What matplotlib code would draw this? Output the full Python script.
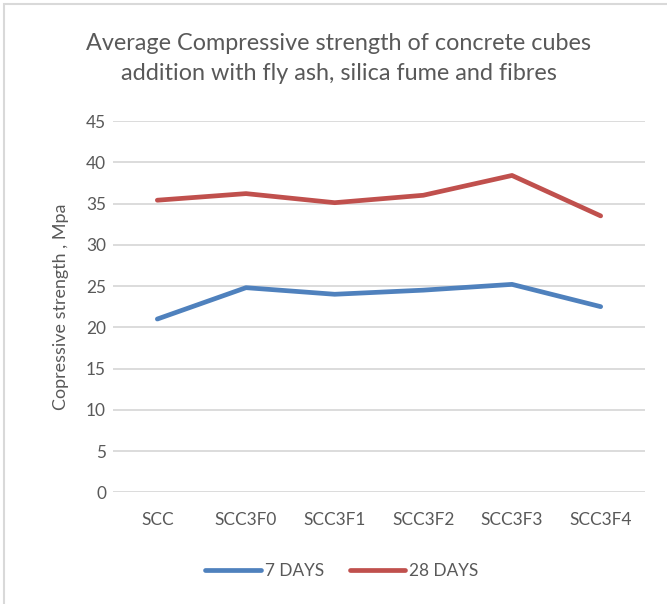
import matplotlib
matplotlib.use("Agg")
import matplotlib.pyplot as plt
from matplotlib.patches import Rectangle

# values
categories = ["SCC", "SCC3F0", "SCC3F1", "SCC3F2", "SCC3F3", "SCC3F4"]
days_7 = [21.0, 24.8, 24.0, 24.5, 25.2, 22.5]
days_28 = [35.4, 36.2, 35.1, 36.0, 38.4, 33.5]
y_ticks = [0, 5, 10, 15, 20, 25, 30, 35, 40, 45]

TEXT = "#595959"
GRID = "#d9d9d9"
BLUE = "#4f81bd"
RED = "#c0504d"

plt.rcParams["font.family"] = ["Lato", "DejaVu Sans"]

W, H = 667, 604
fig = plt.figure(figsize=(W / 100, H / 100), dpi=100)

# chart frame (only top and left edges fall inside the crop)
fig.patches.append(Rectangle((4 / W, -0.1), 1.2, (H - 4) / H + 0.1,
                             transform=fig.transFigure, fill=False,
                             edgecolor=GRID, lw=1.5))

ax = fig.add_axes([113 / W, (H - 492.3) / H, 532 / W, (492.3 - 121) / H])
x = list(range(len(categories)))
ax.plot(x, days_7, color=BLUE, lw=3.4, solid_capstyle="round",
        solid_joinstyle="round", label="7 DAYS")
ax.plot(x, days_28, color=RED, lw=3.4, solid_capstyle="round",
        solid_joinstyle="round", label="28 DAYS")

ax.set_xlim(-0.5, len(categories) - 0.5)
ax.set_ylim(0, 45)
ax.set_yticks(y_ticks)
ax.set_xticks(x)
ax.set_xticklabels(categories)
ax.yaxis.grid(True, color=GRID, lw=1.3)
ax.set_axisbelow(True)
for s in ax.spines.values():
    s.set_visible(False)
ax.tick_params(length=0, colors=TEXT, labelsize=12.4)
ax.tick_params(axis="y", pad=5)
ax.tick_params(axis="x", pad=14)

ax.set_ylabel("Copressive strength , Mpa", color=TEXT, fontsize=12.9,
              labelpad=12)

fig.text(339 / W, 1 - 58.5 / H,
         "Average Compressive strength of concrete cubes\n"
         "addition with fly ash, silica fume and fibres",
         ha="center", va="center", color=TEXT, fontsize=16.8,
         linespacing=1.55)

fig.legend(loc="center", bbox_to_anchor=(342 / W, 1 - 571 / H), ncol=2,
           frameon=False, fontsize=12.4, labelcolor=TEXT, handlelength=3.2,
           handletextpad=0.25, columnspacing=1.5)

fig.savefig("out.png", dpi=100)
